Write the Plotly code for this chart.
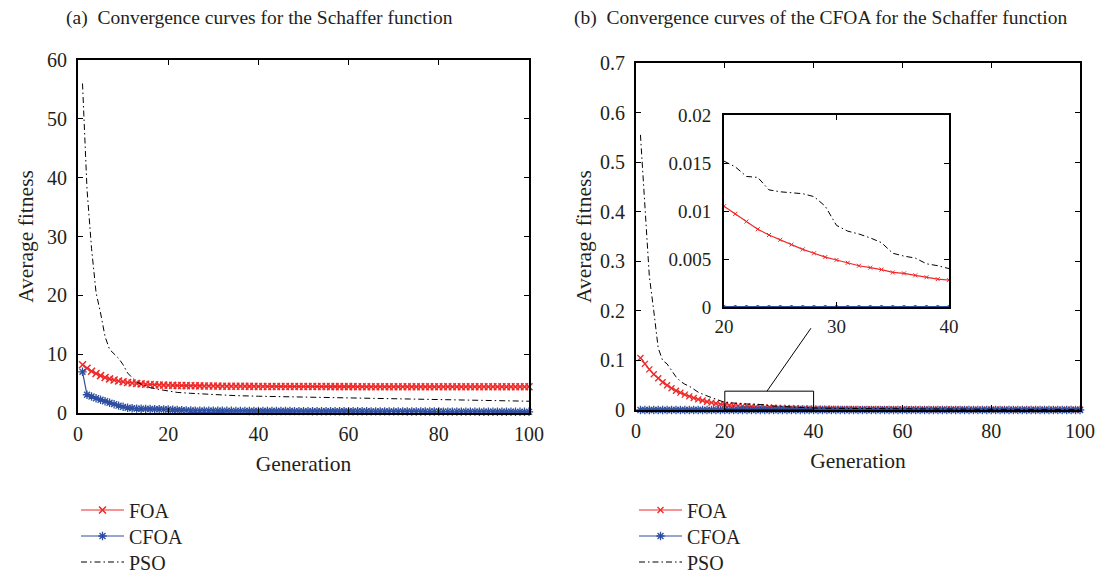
import plotly.graph_objects as go

# ---------------- data ----------------
gen = list(range(1, 101))

# (a) Schaffer function
foa_a = [8.2, 7.6, 7.1, 6.7, 6.35, 6.05, 5.8, 5.6, 5.45, 5.3,
         5.2, 5.1, 5.0, 4.95, 4.9, 4.85, 4.8, 4.77, 4.74, 4.72,
         4.7, 4.68, 4.66, 4.65, 4.63, 4.62, 4.61, 4.6, 4.59, 4.58,
         4.57, 4.56, 4.56, 4.55, 4.55, 4.54, 4.54, 4.53, 4.53, 4.52,
         4.52, 4.52, 4.51, 4.51, 4.51, 4.5, 4.5, 4.5, 4.5, 4.5,
         4.49, 4.49, 4.49, 4.49, 4.49, 4.48, 4.48, 4.48, 4.48, 4.48,
         4.48, 4.47, 4.47, 4.47, 4.47, 4.47, 4.47, 4.47, 4.46, 4.46,
         4.46, 4.46, 4.46, 4.46, 4.46, 4.46, 4.46, 4.45, 4.45, 4.45,
         4.45, 4.45, 4.45, 4.45, 4.45, 4.45, 4.45, 4.45, 4.45, 4.45,
         4.45, 4.45, 4.45, 4.45, 4.45, 4.45, 4.45, 4.45, 4.45, 4.45]
cfoa_a = [7.0, 3.1, 2.8, 2.5, 2.25, 2.0, 1.75, 1.5, 1.25, 1.05,
          0.9, 0.8, 0.75, 0.72, 0.7, 0.68, 0.66, 0.64, 0.62, 0.6,
          0.55, 0.5, 0.46, 0.44, 0.42, 0.41, 0.4, 0.4, 0.39, 0.39,
          0.38, 0.38, 0.37, 0.37, 0.36, 0.36, 0.36, 0.35, 0.35, 0.35,
          0.34, 0.34, 0.34, 0.33, 0.33, 0.33, 0.33, 0.32, 0.32, 0.32,
          0.32, 0.31, 0.31, 0.31, 0.31, 0.3, 0.3, 0.3, 0.3, 0.3,
          0.29, 0.29, 0.29, 0.29, 0.28, 0.28, 0.28, 0.28, 0.27, 0.27,
          0.27, 0.27, 0.26, 0.26, 0.26, 0.26, 0.25, 0.25, 0.25, 0.25,
          0.24, 0.24, 0.24, 0.24, 0.23, 0.23, 0.23, 0.23, 0.22, 0.22,
          0.22, 0.22, 0.21, 0.21, 0.21, 0.21, 0.2, 0.2, 0.2, 0.2]
pso_a_gen = [1, 2, 3, 4, 5, 6, 7, 8, 9, 10, 11, 12, 13, 14, 15, 16, 18, 20,
             22, 25, 30, 35, 40, 50, 60, 70, 80, 90, 100]
pso_a = [56, 38, 28, 20.5, 17, 13, 10.8, 10, 9.3, 8.2, 6.8, 6.0, 5.3, 4.9,
         4.6, 4.3, 4.0, 3.7, 3.5, 3.35, 3.1, 2.95, 2.85, 2.7, 2.6, 2.5,
         2.3, 2.1, 2.0]

# (b) CFOA close-up
foa_b = [0.105, 0.093, 0.082, 0.072, 0.064, 0.056, 0.05, 0.044, 0.039, 0.035,
         0.031, 0.0275, 0.0243, 0.0215, 0.019, 0.0167, 0.0148, 0.0131, 0.0117, 0.0105,
         0.0097, 0.0089, 0.0081, 0.0075, 0.007, 0.0065, 0.006, 0.0056, 0.0052, 0.0049,
         0.0046, 0.0043, 0.0041, 0.0039, 0.0036, 0.0035, 0.0033, 0.0031, 0.0029, 0.0028,
         0.0027, 0.0026, 0.0025, 0.0024, 0.0023, 0.0022, 0.0021, 0.002, 0.0019, 0.0018,
         0.0018, 0.0017, 0.0016, 0.0016, 0.0015, 0.0015, 0.0014, 0.0014, 0.0013, 0.0013,
         0.0012, 0.0012, 0.0012, 0.0011, 0.0011, 0.0011, 0.001, 0.001, 0.001, 0.001,
         0.0009, 0.0009, 0.0009, 0.0009, 0.0008, 0.0008, 0.0008, 0.0008, 0.0007, 0.0007,
         0.0007, 0.0007, 0.0007, 0.0006, 0.0006, 0.0006, 0.0006, 0.0006, 0.0006, 0.0005,
         0.0005, 0.0005, 0.0005, 0.0005, 0.0005, 0.0005, 0.0005, 0.0005, 0.0005, 0.0005]
cfoa_b = [0.0, 0.0, 0.0, 0.0, 0.0, 0.0, 0.0, 0.0, 0.0, 0.0,
          0.0, 0.0, 0.0, 0.0, 0.0, 0.0, 0.0, 0.0, 0.0, 0.0,
          0.0, 0.0, 0.0, 0.0, 0.0, 0.0, 0.0, 0.0, 0.0, 0.0,
          0.0, 0.0, 0.0, 0.0, 0.0, 0.0, 0.0, 0.0, 0.0, 0.0,
          0.0, 0.0, 0.0, 0.0, 0.0, 0.0, 0.0, 0.0, 0.0, 0.0,
          0.0, 0.0, 0.0, 0.0, 0.0, 0.0, 0.0, 0.0, 0.0, 0.0,
          0.0, 0.0, 0.0, 0.0, 0.0, 0.0, 0.0, 0.0, 0.0, 0.0,
          0.0, 0.0, 0.0, 0.0, 0.0, 0.0, 0.0, 0.0, 0.0, 0.0,
          0.0, 0.0, 0.0, 0.0, 0.0, 0.0, 0.0, 0.0, 0.0, 0.0,
          0.0, 0.0, 0.0, 0.0, 0.0, 0.0, 0.0, 0.0, 0.0, 0.0]
pso_b_gen = list(range(1, 41)) + [45, 50, 55, 60, 70, 80, 90, 100]
pso_b = [0.555, 0.42, 0.27, 0.2, 0.125, 0.1, 0.093, 0.08, 0.067, 0.058,
         0.052, 0.048, 0.042, 0.036, 0.032, 0.028, 0.025, 0.022, 0.018, 0.0152,
         0.0146, 0.0136, 0.0135, 0.0122, 0.012, 0.0119, 0.0118, 0.0115, 0.0105, 0.0085,
         0.0079, 0.0076, 0.0072, 0.0067, 0.0056, 0.0053, 0.0051, 0.0045, 0.0043, 0.004,
         0.0033, 0.0028, 0.0024, 0.0021, 0.0017, 0.0013, 0.001, 0.0008]

inset_lo, inset_hi = 20, 40          # generations shown in the zoom inset
zoom_box = [20, 40, 0.0, 0.038]      # rectangle marking the zoomed region
zoom_link = [29.5, 0.038, 39.4, 0.165]  # connector from box to inset

# ---------------- style ----------------
RED = "#f02828"
BLUE = "#2e4fa0"
INK = "#231f20"
FONT = "Liberation Serif"
W, H = 1108, 581
DASHDOT = "6px,3px,1.5px,3px"


def px_x(p):
    return p / W


def px_y(p):
    return 1 - p / H


fig = go.Figure()

# left panel
fig.add_trace(go.Scatter(x=gen, y=foa_a, name="FOA", mode="lines+markers",
                         line=dict(color=RED, width=1.2),
                         marker=dict(symbol="x-thin", size=7, color=RED,
                                     line=dict(color=RED, width=1.5)),
                         cliponaxis=False, xaxis="x", yaxis="y", legend="legend"))
fig.add_trace(go.Scatter(x=gen, y=cfoa_a, name="CFOA", mode="lines+markers",
                         line=dict(color=BLUE, width=1.2),
                         marker=dict(symbol="asterisk", size=7, color=BLUE,
                                     line=dict(color=BLUE, width=1.3)),
                         cliponaxis=False, xaxis="x", yaxis="y", legend="legend2"))
fig.add_trace(go.Scatter(x=pso_a_gen, y=pso_a, name="PSO", mode="lines",
                         line=dict(color="black", width=1, dash=DASHDOT),
                         xaxis="x", yaxis="y", legend="legend3"))

# right panel
fig.add_trace(go.Scatter(x=gen, y=foa_b, name="FOA", mode="lines+markers",
                         line=dict(color=RED, width=1.2),
                         marker=dict(symbol="x-thin", size=6, color=RED,
                                     line=dict(color=RED, width=1.3)),
                         cliponaxis=False, xaxis="x2", yaxis="y2", legend="legend4"))
fig.add_trace(go.Scatter(x=gen, y=cfoa_b, name="CFOA", mode="lines+markers",
                         line=dict(color=BLUE, width=1.2),
                         marker=dict(symbol="asterisk", size=7, color=BLUE,
                                     line=dict(color=BLUE, width=1.3)),
                         cliponaxis=False, xaxis="x2", yaxis="y2", legend="legend5"))
fig.add_trace(go.Scatter(x=pso_b_gen, y=pso_b, name="PSO", mode="lines",
                         line=dict(color="black", width=1, dash=DASHDOT),
                         xaxis="x2", yaxis="y2", legend="legend6"))

# inset
i0, i1 = inset_lo - 1, inset_hi
fig.add_trace(go.Scatter(x=gen[i0:i1], y=foa_b[i0:i1], mode="lines+markers",
                         line=dict(color=RED, width=1.2),
                         marker=dict(symbol="x-thin", size=4, color=RED,
                                     line=dict(color=RED, width=1)),
                         showlegend=False, cliponaxis=False, xaxis="x3", yaxis="y3"))
fig.add_trace(go.Scatter(x=gen[i0:i1], y=cfoa_b[i0:i1], mode="lines+markers",
                         line=dict(color=BLUE, width=2),
                         marker=dict(symbol="circle", size=4, color=BLUE),
                         showlegend=False, cliponaxis=False, xaxis="x3", yaxis="y3"))
pj0 = pso_b_gen.index(inset_lo)
pj1 = pso_b_gen.index(inset_hi) + 1
fig.add_trace(go.Scatter(x=pso_b_gen[pj0:pj1], y=pso_b[pj0:pj1], mode="lines",
                         line=dict(color="black", width=1, dash=DASHDOT),
                         showlegend=False, xaxis="x3", yaxis="y3"))


def axis_style(size, lab_gap=0):
    return dict(showline=True, linecolor="black", linewidth=2, mirror="allticks",
                ticks="inside", ticklen=5, tickwidth=1, tickcolor="black",
                showgrid=False, zeroline=False, automargin=False,
                ticklabelstandoff=lab_gap,
                tickfont=dict(family=FONT, size=size, color=INK))


title_font = dict(family=FONT, size=21.5, color=INK)
legend_font = dict(family=FONT, size=20, color=INK)


def legend_at(x_px, y_px):
    return dict(x=px_x(x_px), y=px_y(y_px), xanchor="left", yanchor="middle",
                font=legend_font, bgcolor="rgba(0,0,0,0)", itemwidth=43,
                borderwidth=0)


legend_rows = [510, 536, 562]

fig.update_layout(
    width=W, height=H,
    margin=dict(l=0, r=0, t=0, b=0, autoexpand=False),
    paper_bgcolor="white", plot_bgcolor="white",
    xaxis=dict(domain=[px_x(78), px_x(529)], range=[0, 100], dtick=20,
               title=dict(text="Generation", font=title_font, standoff=12),
               anchor="y", **axis_style(20, 2)),
    yaxis=dict(domain=[px_y(413), px_y(60)], range=[0, 60], dtick=10,
               title=dict(text="Average fitness", font=title_font, standoff=7),
               anchor="x", **axis_style(20, 5)),
    xaxis2=dict(domain=[px_x(636), px_x(1080)], range=[0, 100], dtick=20,
                title=dict(text="Generation", font=title_font, standoff=12),
                anchor="y2", **axis_style(20, 2)),
    yaxis2=dict(domain=[px_y(410), px_y(63)], range=[0, 0.7], dtick=0.1,
                title=dict(text="Average fitness", font=title_font, standoff=2),
                anchor="x2", **axis_style(20, 5)),
    xaxis3=dict(domain=[px_x(724), px_x(949)], range=[20, 40], dtick=10,
                anchor="y3", **axis_style(19, 1)),
    yaxis3=dict(domain=[px_y(307), px_y(115)], range=[0, 0.02], dtick=0.005,
                anchor="x3", **axis_style(19, 7)),
    legend=legend_at(76, legend_rows[0]),
    legend2=legend_at(76, legend_rows[1]),
    legend3=legend_at(76, legend_rows[2]),
    legend4=legend_at(634, legend_rows[0]),
    legend5=legend_at(634, legend_rows[1]),
    legend6=legend_at(634, legend_rows[2]),
    annotations=[
        dict(text="(a)\u00a0\u00a0Convergence curves for the Schaffer function",
             x=px_x(259), y=px_y(18), xref="paper", yref="paper",
             xanchor="center", yanchor="middle",
             showarrow=False, font=dict(family=FONT, size=19.5, color=INK)),
        dict(text="(b)\u00a0\u00a0Convergence curves of the CFOA for the Schaffer function",
             x=px_x(820), y=px_y(18), xref="paper", yref="paper",
             xanchor="center", yanchor="middle",
             showarrow=False, font=dict(family=FONT, size=19.5, color=INK)),
    ],
    shapes=[
        dict(type="rect", xref="x2", yref="y2", x0=zoom_box[0], x1=zoom_box[1],
             y0=zoom_box[2], y1=zoom_box[3], line=dict(color="black", width=1)),
        dict(type="line", xref="x2", yref="y2", x0=zoom_link[0], y0=zoom_link[1],
             x1=zoom_link[2], y1=zoom_link[3], line=dict(color="black", width=1)),
    ],
)

fig.write_html("out.html")
